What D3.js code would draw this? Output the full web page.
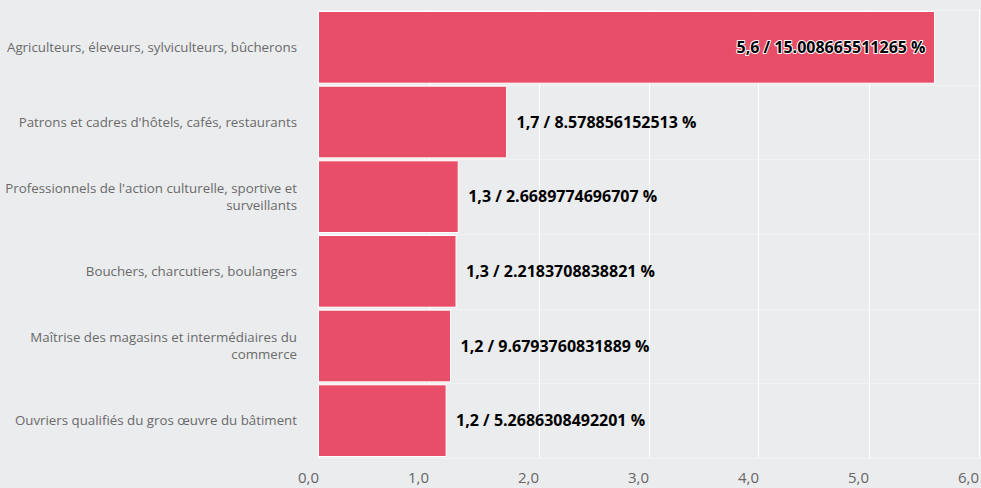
<!DOCTYPE html>
<html>
<head>
<meta charset="utf-8">
<script src="https://cdn.jsdelivr.net/npm/d3@7"></script>
<style>
  html, body { margin: 0; padding: 0; background: #ebecee; }
  svg { display: block; }
</style>
</head>
<body>
<svg id="chart" width="981" height="488"></svg>
<script>
const categories = [
  "Agriculteurs, éleveurs, sylviculteurs, bûcherons",
  "Patrons et cadres d'hôtels, cafés, restaurants",
  "Professionnels de l'action culturelle, sportive et surveillants",
  "Bouchers, charcutiers, boulangers",
  "Maîtrise des magasins et intermédiaires du commerce",
  "Ouvriers qualifiés du gros œuvre du bâtiment"
];
const values = [5.6, 1.71, 1.27, 1.25, 1.2, 1.16];
const percents = ["15.008665511265", "8.578856152513", "2.6689774696707", "2.2183708838821", "9.6793760831889", "5.2686308492201"];
const xTicks = [0, 1, 2, 3, 4, 5, 6];

const W = 981, H = 488;
const margin = { left: 318.5, right: 2.5, top: 10, bottom: 30 };
const svg = d3.select("#chart");
const font = "'Open Sans', 'Noto Sans', sans-serif";

const x = d3.scaleLinear().domain([0, 6]).range([margin.left, W - margin.right]);
const y = d3.scaleBand().domain(categories).range([margin.top, H - margin.bottom]).paddingInner(0.04).paddingOuter(0.02);

// plot background
svg.append("rect").attr("x", 0).attr("y", 0).attr("width", W).attr("height", H).attr("fill", "#ebecee");

// horizontal band separators
const step = (H - margin.bottom - margin.top) / categories.length;
svg.append("g").selectAll("line").data(d3.range(categories.length + 1)).join("line")
  .attr("x1", margin.left).attr("x2", W)
  .attr("y1", i => Math.round(margin.top + i * step) + 0.5)
  .attr("y2", i => Math.round(margin.top + i * step) + 0.5)
  .attr("stroke", "#f3f3f5").attr("stroke-width", 1);

// vertical grid lines
svg.append("g").selectAll("line").data(xTicks).join("line")
  .attr("x1", d => Math.round(x(d)) + 0.5).attr("x2", d => Math.round(x(d)) + 0.5)
  .attr("y1", margin.top).attr("y2", H - margin.bottom)
  .attr("stroke", "#ffffff").attr("stroke-width", 1);

// bars
svg.append("g").selectAll("rect").data(categories).join("rect")
  .attr("x", x(0))
  .attr("y", d => y(d))
  .attr("width", (d, i) => x(values[i]) - x(0))
  .attr("height", y.bandwidth())
  .attr("fill", "#e84e67")
  .attr("stroke", "#ffffff").attr("stroke-width", 1);

// x axis
const xAxis = d3.axisBottom(x).tickValues(xTicks).tickSize(0).tickFormat(d => d3.format(".1f")(d).replace(".", ","));
const gx = svg.append("g").attr("transform", `translate(0,${H - margin.bottom})`).call(xAxis);
gx.select(".domain").remove();
gx.selectAll("text")
  .attr("text-anchor", "end")
  .attr("dy", null)
  .attr("y", 25)
  .attr("font-family", font).attr("font-size", 15).attr("fill", "#666666");

// category labels with wrapping
const catG = svg.append("g");
categories.forEach((c, i) => {
  const t = catG.append("text")
    .attr("text-anchor", "end")
    .attr("font-family", font).attr("font-size", 13.3).attr("fill", "#6a6a6a");
  const words = c.split(" ");
  const lines = [];
  let cur = [];
  const probe = t.append("tspan");
  words.forEach(w => {
    const trial = cur.concat([w]).join(" ");
    probe.text(trial);
    if (probe.node().getComputedTextLength() > 300 && cur.length) {
      lines.push(cur.join(" "));
      cur = [w];
    } else cur.push(w);
  });
  lines.push(cur.join(" "));
  probe.remove();
  const lh = 17.5;
  const cy = y(c) + y.bandwidth() / 2;
  lines.forEach((l, j) => {
    t.append("tspan").attr("x", 297)
      .attr("y", cy + (j - (lines.length - 1) / 2) * lh)
      .attr("dy", "0.35em").text(l);
  });
});

// value labels
const lab = svg.append("g");
categories.forEach((c, i) => {
  const txt = d3.format(".1f")(values[i]).replace(".", ",") + " / " + percents[i] + " %";
  const t = lab.append("text")
    .attr("y", y(c) + y.bandwidth() / 2).attr("dy", "0.35em")
    .attr("font-family", font).attr("font-size", 16).attr("font-weight", "bold")
    .attr("fill", "#000000").text(txt);
  const w = t.node().getComputedTextLength();
  const xe = x(values[i]);
  if (xe + 10 + w > W - margin.right) {
    t.attr("x", xe - 9).attr("text-anchor", "end")
      .attr("stroke", "#ffffff").attr("stroke-width", 2).attr("paint-order", "stroke").attr("stroke-linejoin", "round");
  } else {
    t.attr("x", xe + 10);
  }
});
</script>
</body>
</html>
